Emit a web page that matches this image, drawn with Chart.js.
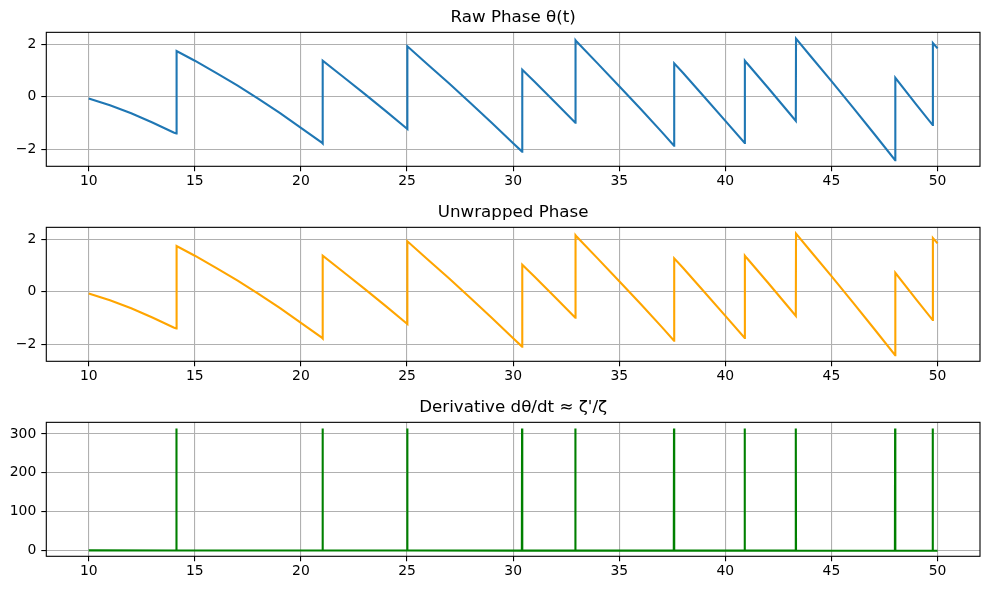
<!DOCTYPE html>
<html>
<head>
<meta charset="utf-8">
<title>Zeta phase</title>
<script src="https://cdn.jsdelivr.net/npm/chart.js@4.4.0/dist/chart.umd.min.js"></script>
<style>
  body { margin: 0; background: #fff; }
  .panel { position: absolute; left: 0; width: 990px; }
</style>
</head>
<body>
<div class="panel" style="top:0;height:195px"><canvas id="raw"></canvas></div>
<div class="panel" style="top:195px;height:195px"><canvas id="unwrapped"></canvas></div>
<div class="panel" style="top:390px;height:200px"><canvas id="deriv"></canvas></div>
<script>
//Data

//phase curve: t values (two samples at every jump) and phase values
const phaseT = [10, 11, 12, 13, 14, 14.13,
  14.14, 15, 16, 17, 18, 19, 20, 21, 21.02,
  21.03, 22, 23, 24, 25, 25.01,
  25.02, 26, 27, 28, 29, 30, 30.42,
  30.43, 31, 32, 32.93,
  32.94, 33, 34, 35, 36, 37, 37.58,
  37.59, 38, 39, 40, 40.91,
  40.92, 41, 42, 43, 43.32,
  43.33, 44, 45, 46, 47, 48.0,
  48.01, 49, 49.77,
  49.78, 50];
const phaseY = [-0.07, -0.33, -0.63, -0.98, -1.36, -1.40,
  1.74, 1.37, 0.91, 0.43, -0.08, -0.62, -1.19, -1.76, -1.78,
  1.37, 0.75, 0.11, -0.55, -1.22, -1.23,
  1.92, 1.21, 0.49, -0.25, -1.00, -1.77, -2.09,
  1.03, 0.58, -0.23, -0.99,
  2.15, 2.09, 1.25, 0.40, -0.46, -1.34, -1.87,
  1.27, 0.91, 0.00, -0.92, -1.76,
  1.37, 1.29, 0.35, -0.61, -0.92,
  2.21, 1.56, 0.59, -0.40, -1.40, -2.42,
  0.72, -0.30, -1.08,
  2.04, 1.84];

//derivative: spike positions, spike heights and the flat level around them
const spikeT = [14.13, 21.02, 25.01, 30.42, 32.93, 37.58, 40.91, 43.32, 48.0, 49.77];
const spikeH = [314, 314, 314, 314, 314, 314, 314, 314, 314, 314];
const spikeBase = [-0.41, -0.60, -0.69, -0.79, -0.83, -0.89, -0.94, -0.97, -1.02, -1.03];
const derivStart = [10, -0.23];
const derivEnd = [50, -1.04];

//tick labels
const xTicks = [10, 15, 20, 25, 30, 35, 40, 45, 50];
const phaseTicks = [-2, 0, 2];
const derivTicks = [0, 100, 200, 300];

const FONT = "'DejaVu Sans', sans-serif";

//draw the full box round the plot area like matplotlib spines
const frame = {
  id: "frame",
  afterDraw(chart) {
    let { ctx, chartArea: a } = chart;
    ctx.save();
    ctx.strokeStyle = "#000";
    ctx.lineWidth = 1.1;
    ctx.strokeRect(a.left, a.top, a.right - a.left, a.bottom - a.top);
    ctx.restore();
  }
};

function toPoints(xs, ys) {
  let pts = [];
  for (let i = 0; i < xs.length; i++) {
    pts.push({ x: xs[i], y: ys[i] });
  }
  return pts;
}

//spikes one sample wide on a flat line
function derivPoints() {
  let pts = [{ x: derivStart[0], y: derivStart[1] }];
  for (let i = 0; i < spikeT.length; i++) {
    pts.push({ x: spikeT[i] - 0.01, y: spikeBase[i] });
    pts.push({ x: spikeT[i], y: spikeH[i] });
    pts.push({ x: spikeT[i] + 0.01, y: spikeBase[i] });
  }
  pts.push({ x: derivEnd[0], y: derivEnd[1] });
  return pts;
}

function fixedTicks(values) {
  return function(scale) {
    scale.ticks = values.map(v => ({ value: v }));
  };
}

function makeChart(id, title, points, color, yMin, yMax, yTicks, canvasH) {
  let ctx = document.getElementById(id).getContext("2d");
  return new Chart(ctx, {
    type: "line",
    data: {
      datasets: [
        {
          data: points,
          borderColor: color,
          borderWidth: 2.1,
          pointRadius: 0,
          fill: false,
          tension: 0
        }
      ]
    },
    options: {
      animation: false,
      responsive: true,
      maintainAspectRatio: false,
      layout: { padding: { left: 0, right: 10, top: 0, bottom: 0 } },
      plugins: {
        legend: { display: false },
        tooltip: { enabled: false },
        title: {
          display: true,
          text: title,
          fullSize: false,
          color: "#000",
          font: { family: FONT, size: 16.7, weight: "normal" },
          padding: { top: 7.5, bottom: 4.8 }
        }
      },
      scales: {
        x: {
          type: "linear",
          min: 8,
          max: 52,
          afterBuildTicks: fixedTicks(xTicks),
          afterFit: function(scale) { scale.height = canvasH - 166.3; },
          border: { display: false },
          grid: { color: "#b0b0b0", lineWidth: 1.1, tickColor: "#000", tickLength: 5, tickWidth: 1.1 },
          ticks: { color: "#000", font: { family: FONT, size: 13.9 }, padding: 2, maxRotation: 0 }
        },
        y: {
          min: yMin,
          max: yMax,
          afterBuildTicks: fixedTicks(yTicks),
          afterFit: function(scale) { scale.width = 46.3; },
          border: { display: false },
          grid: { color: "#b0b0b0", lineWidth: 1.1, tickColor: "#000", tickLength: 5, tickWidth: 1.1 },
          ticks: {
            color: "#000",
            font: { family: FONT, size: 13.9 },
            padding: 5,
            callback: v => String(v).replace("-", "\u2212")
          }
        }
      }
    },
    plugins: [frame]
  });
}

window.onload = function() {
  makeChart("raw", "Raw Phase \u03b8(t)", toPoints(phaseT, phaseY), "#1f77b4", -2.65, 2.45, phaseTicks, 195);
  makeChart("unwrapped", "Unwrapped Phase", toPoints(phaseT, phaseY), "#ffa500", -2.65, 2.45, phaseTicks, 195);
  makeChart("deriv", "Derivative d\u03b8/dt \u2248 \u03b6'/\u03b6", derivPoints(), "#008000", -15.5, 330, derivTicks, 200);
};
</script>
</body>
</html>
